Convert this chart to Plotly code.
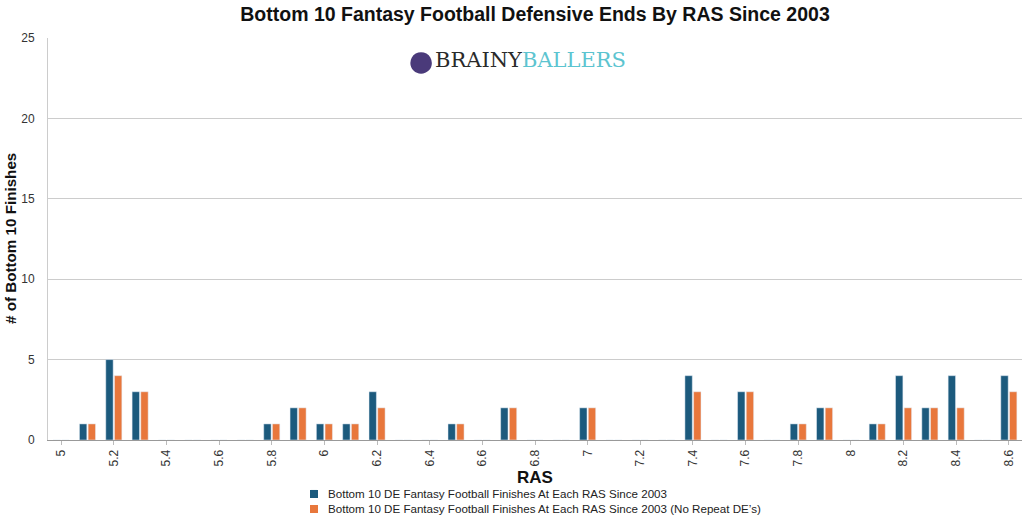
import plotly.graph_objects as go

ras = ["5", "5.1", "5.2", "5.3", "5.4", "5.5", "5.6", "5.7", "5.8", "5.9",
       "6", "6.1", "6.2", "6.3", "6.4", "6.5", "6.6", "6.7", "6.8", "6.9",
       "7", "7.1", "7.2", "7.3", "7.4", "7.5", "7.6", "7.7", "7.8", "7.9",
       "8", "8.1", "8.2", "8.3", "8.4", "8.5", "8.6"]
finishes = [0, 1, 5, 3, 0, 0, 0, 0, 1, 2,
            1, 1, 3, 0, 0, 1, 0, 2, 0, 0,
            2, 0, 0, 0, 4, 0, 3, 0, 1, 2,
            0, 1, 4, 2, 4, 0, 4]
no_repeat = [0, 1, 4, 3, 0, 0, 0, 0, 1, 2,
             1, 1, 2, 0, 0, 1, 0, 2, 0, 0,
             2, 0, 0, 0, 3, 0, 3, 0, 1, 2,
             0, 1, 2, 2, 2, 0, 3]
tick_labels = ras[::2]
series_names = ["Bottom 10 DE Fantasy Football Finishes At Each RAS Since 2003",
                "Bottom 10 DE Fantasy Football Finishes At Each RAS Since 2003 (No Repeat DE\u2019s)"]
series_colors = ["#1c5a7d", "#e8773c"]

font = "Helvetica, Arial, Liberation Sans, sans-serif"

fig = go.Figure()
for vals, name, col in zip([finishes, no_repeat], series_names, series_colors):
    fig.add_trace(go.Bar(x=ras, y=vals, marker_color=col, name=name))

fig.update_layout(
    width=1024, height=517,
    margin=dict(l=48, r=2, t=38, b=77),
    paper_bgcolor="white", plot_bgcolor="white",
    barmode="group", bargap=0.34, bargroupgap=0.15,
    font=dict(family=font, size=12, color="#333"),
    title=dict(text="<b>Bottom 10 Fantasy Football Defensive Ends By RAS Since 2003</b>",
               x=0.5, xref="paper", xanchor="center", y=0.973, yanchor="middle",
               font=dict(size=19.5, color="#111")),
    showlegend=False,
)
fig.update_xaxes(type="category", categoryorder="array", categoryarray=ras,
                 tickmode="array", tickvals=tick_labels, ticktext=tick_labels,
                 tickangle=-90, showline=True, linecolor="#999", linewidth=1,
                 ticks="outside", ticklen=4, tickcolor="#bbb", automargin=False,
                 tickfont=dict(size=12, color="#333"), showgrid=False)
fig.update_yaxes(range=[0, 25], dtick=5, showgrid=True, gridcolor="#cccccc",
                 showline=True, linecolor="#ccc", zeroline=False, automargin=False,
                 tickfont=dict(size=12, color="#333"), ticks="", ticklabelstandoff=10)

fig.add_annotation(text="<b>RAS</b>", xref="paper", yref="paper", x=0.5, y=-0.094,
                   yanchor="middle", showarrow=False, font=dict(size=17, color="#111"))
fig.add_annotation(text="<b># of Bottom 10 Finishes</b>", xref="paper", yref="paper",
                   x=-0.039, y=0.5, xanchor="center", yanchor="middle", textangle=-90,
                   showarrow=False, font=dict(size=15.2, color="#111"))
fig.add_annotation(text="BRAINY<span style='color:#5cc4d0'>BALLERS</span>",
                   xref="paper", yref="paper", x=0.495, y=0.945, xanchor="center",
                   yanchor="middle", showarrow=False,
                   font=dict(family="DejaVu Serif, Liberation Serif, serif", size=21, color="#2a2a2a"))
fig.add_annotation(text="\u25CF", xref="paper", yref="paper", x=0.383, y=0.945,
                   xanchor="center", yanchor="middle", showarrow=False,
                   font=dict(size=50, color="#4a3a7a"))

# manual legend (keeps the plot area from being pushed by the legend)
leg_rows = [(-0.1243, -0.1443, -0.1343), (-0.1617, -0.1816, -0.1716)]
for (y1, y0, yc), name, col in zip(leg_rows, series_names, series_colors):
    fig.add_shape(type="rect", xref="paper", yref="paper", x0=0.269, x1=0.2772,
                  y0=y0, y1=y1, fillcolor=col, line=dict(width=0))
    fig.add_annotation(text=name, xref="paper", yref="paper", x=0.2854, y=yc,
                       xanchor="left", yanchor="middle", showarrow=False,
                       font=dict(size=11.6, color="#222"))

fig.write_html("out.html", config={"displayModeBar": False},
               post_script="document.body.style.margin='0';document.body.style.overflow='hidden';")
